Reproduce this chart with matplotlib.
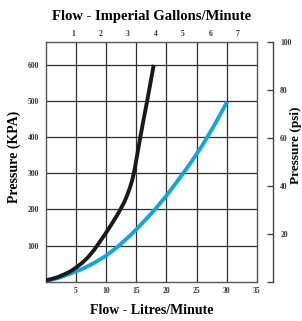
import numpy as np
import matplotlib.pyplot as plt

# dados (vazao em L/min, pressao em kPa)
vazao_preta = [0.0, 1.0, 2.0, 3.0, 4.0, 5.0, 6.0, 7.0, 8.0, 9.0, 10.0, 11.0, 12.0,
               13.0, 13.5, 14.0, 14.4, 14.8, 15.2, 15.7, 16.25, 16.8, 17.35, 17.9]
pressao_preta = [4, 8, 13, 20, 28, 39, 52, 68, 88, 112, 136, 162, 189,
                 220, 240, 263, 286, 317, 356, 403, 452, 500, 550, 600]

vazao_azul = [0.0, 2.0, 4.0, 6.0, 8.0, 10.0, 12.0, 14.0, 16.0, 18.0, 20.0, 22.0,
              24.0, 26.0, 28.0, 30.1]
pressao_azul = [2, 10, 22, 35, 52, 72, 98, 128, 162, 198, 238, 282,
                328, 378, 434, 498]

ticks_litros = [5, 10, 15, 20, 25, 30, 35]
ticks_galoes = [1, 2, 3, 4, 5, 6, 7]
ticks_kpa = [100, 200, 300, 400, 500, 600]
ticks_psi = [20, 40, 60, 80, 100]

LITROS_POR_GALAO = 4.546

plt.rcParams['font.family'] = ['Liberation Serif', 'DejaVu Serif']
plt.rcParams['font.weight'] = 'bold'

fig = plt.figure(figsize=(3.02, 3.21), dpi=100)
W, H = 302, 321
ax = fig.add_axes([46 / W, (H - 281.7) / H, 210.7 / W, 240 / H])

ax.plot(vazao_azul, pressao_azul, color='#12a5de', linewidth=2.8,
        solid_capstyle='butt', solid_joinstyle='round', zorder=3)
ax.plot(vazao_preta, pressao_preta, color='#1a1a1a', linewidth=2.8,
        solid_capstyle='butt', solid_joinstyle='round', zorder=4)

ax.set_xlim(0, 35)
ax.set_ylim(0, 664)

for v in ticks_litros[:-1]:
    ax.axvline(v, color='#2e2e2e', linewidth=0.9, zorder=1)
for p in ticks_kpa:
    ax.axhline(p, color='#2e2e2e', linewidth=0.9, zorder=1)

for s in ax.spines.values():
    s.set_color('#555555')
    s.set_linewidth(1.0)

ax.set_xticks(ticks_litros)
ax.set_yticks(ticks_kpa)
ax.tick_params(axis='both', length=0, labelsize=5.5, colors='#333333')
ax.tick_params(axis='x', pad=4)
ax.tick_params(axis='y', pad=5)
ax.set_xlabel('Flow - Litres/Minute', fontsize=10, fontweight='bold', labelpad=6)
ax.set_ylabel('Pressure (KPA)', fontsize=10, fontweight='bold')
ax.yaxis.set_label_coords(-0.12, 0.52)

# eixo superior em galoes imperiais
sec = ax.secondary_xaxis('top', functions=(lambda x: x / LITROS_POR_GALAO,
                                           lambda g: g * LITROS_POR_GALAO))
sec.set_xticks(ticks_galoes)
sec.tick_params(length=0, labelsize=5.5, colors='#333333', pad=3)
sec.spines['top'].set_visible(False)
sec.set_xlabel('Flow - Imperial Gallons/Minute', fontsize=10.5,
               fontweight='bold', labelpad=7)

# eixo psi separado a direita
ax2 = fig.add_axes([273.3 / W - 0.0005, (H - 281.7) / H, 0.0005, 240 / H])
ax2.set_ylim(0, 100)
ax2.set_xticks([])
ax2.patch.set_visible(False)
for nome in ['top', 'bottom', 'left']:
    ax2.spines[nome].set_visible(False)
ax2.spines['right'].set_color('#444444')
ax2.spines['right'].set_linewidth(1.0)
ax2.yaxis.tick_right()
ax2.set_yticks([0] + ticks_psi, [''] + [str(t) for t in ticks_psi])
ax2.tick_params(axis='y', direction='in', length=4, width=1.0, color='#444444',
                labelsize=5.5, labelcolor='#333333', pad=5)

fig.text(295.5 / W, (H - 145) / H, 'Pressure (psi)', rotation=90,
         fontsize=9.5, fontweight='bold', ha='center', va='center')

fig.savefig('out.png', dpi=100)
